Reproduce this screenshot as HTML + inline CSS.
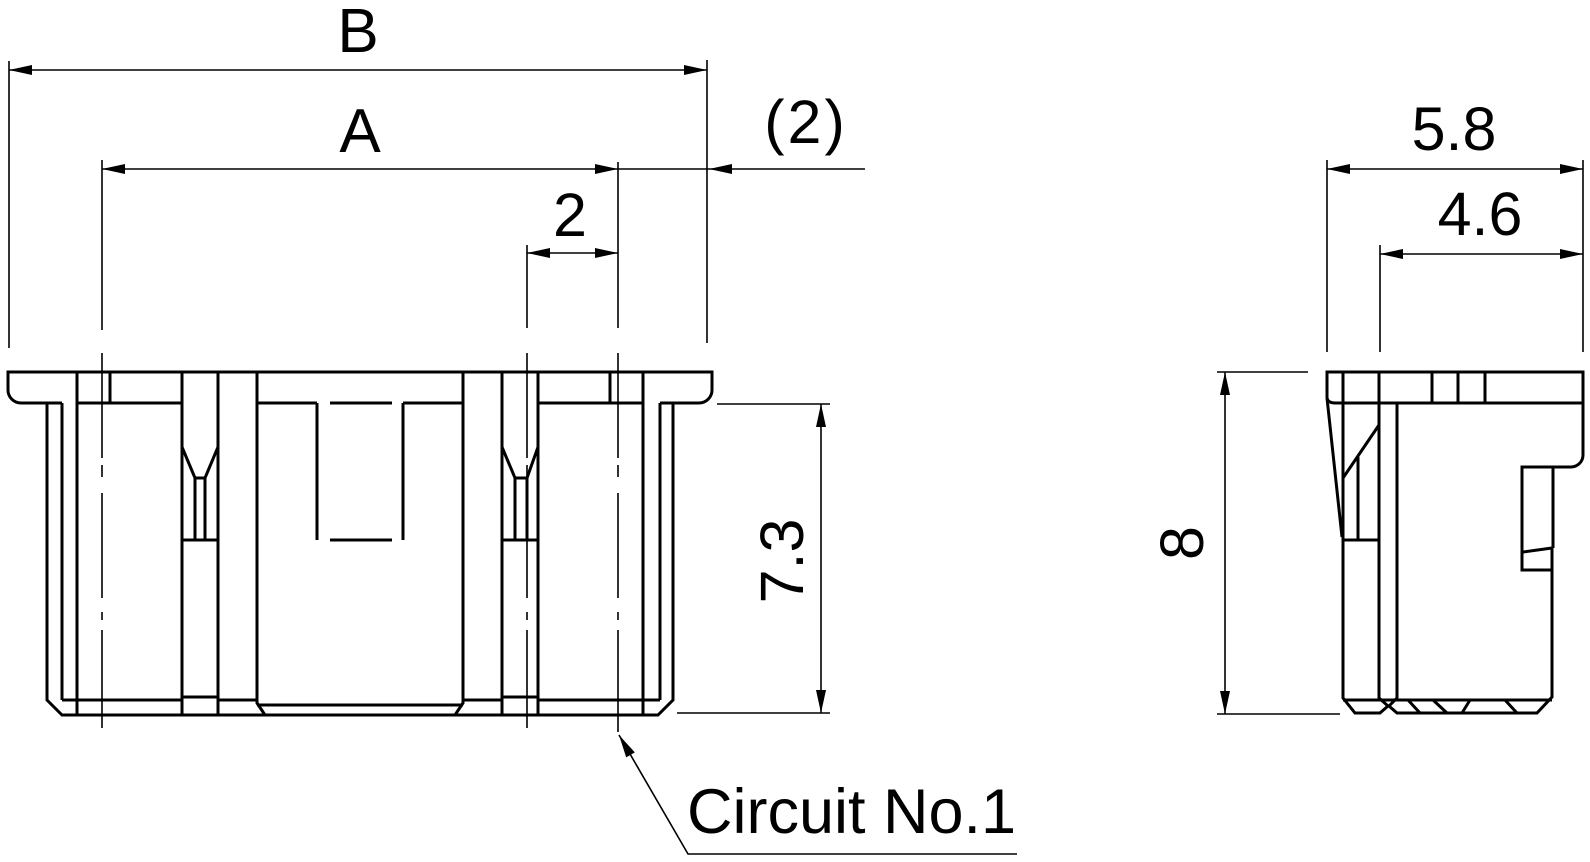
<!DOCTYPE html>
<html>
<head>
<meta charset="utf-8">
<style>
html,body{margin:0;padding:0;background:#fff;}
svg{display:block;}
text{font-family:"Liberation Sans",Arial,sans-serif;fill:#000;}
</style>
</head>
<body>
<svg width="1590" height="862" viewBox="0 0 1590 862" xmlns="http://www.w3.org/2000/svg">
<rect width="1590" height="862" fill="#fff"/>

<!-- ===== Dimension lines (thin) ===== -->
<g stroke="#000" stroke-width="1.6" fill="none">
  <line x1="9" y1="61" x2="9" y2="348"/>
  <line x1="102" y1="160" x2="102" y2="330"/>
  <line x1="527" y1="245" x2="527" y2="328"/>
  <line x1="618" y1="162" x2="618" y2="328"/>
  <line x1="707" y1="60" x2="707" y2="343"/>
  <line x1="9" y1="70" x2="707" y2="70"/>
  <line x1="102" y1="169" x2="865" y2="169"/>
  <line x1="527" y1="253" x2="618" y2="253"/>
  <line x1="717" y1="404" x2="830" y2="404"/>
  <line x1="677" y1="713" x2="830" y2="713"/>
  <line x1="821" y1="404" x2="821" y2="713"/>
  <polyline points="619,735 688,854 1017,854"/>
  <line x1="1327" y1="160" x2="1327" y2="352"/>
  <line x1="1583" y1="160" x2="1583" y2="352"/>
  <line x1="1380" y1="245" x2="1380" y2="352"/>
  <line x1="1327" y1="169" x2="1583" y2="169"/>
  <line x1="1380" y1="254" x2="1583" y2="254"/>
  <line x1="1217" y1="372" x2="1308" y2="372"/>
  <line x1="1217" y1="714" x2="1340" y2="714"/>
  <line x1="1225" y1="372" x2="1225" y2="714"/>
</g>

<!-- centerlines (dash-dot) -->
<g stroke="#000" stroke-width="1.6" fill="none">
  <path d="M102,353V458 M102,465V477 M102,493V598 M102,612V620 M102,630V728"/>
  <path d="M527,353V458 M527,465V477 M527,493V598 M527,612V620 M527,630V728"/>
  <path d="M618,353V458 M618,465V477 M618,493V598 M618,612V620 M618,630V732"/>
</g>

<!-- arrowheads -->
<g fill="#000" stroke="none">
  <polygon points="9,70 32,65 32,75"/>
  <polygon points="707,70 684,65 684,75"/>
  <polygon points="102,169 125,164 125,174"/>
  <polygon points="618,169 595,164 595,174"/>
  <polygon points="709,169 732,164 732,174"/>
  <polygon points="527,253 550,248 550,258"/>
  <polygon points="618,253 595,248 595,258"/>
  <polygon points="1327,169 1350,164 1350,174"/>
  <polygon points="1583,169 1560,164 1560,174"/>
  <polygon points="1380,254 1403,249 1403,259"/>
  <polygon points="1583,254 1560,249 1560,259"/>
  <polygon points="821,404 816,427 826,427"/>
  <polygon points="821,713 816,690 826,690"/>
  <polygon points="1225,372 1220,395 1230,395"/>
  <polygon points="1225,714 1220,691 1230,691"/>
  <polygon points="619,735 634.8,752.4 626.2,757.4"/>
</g>

<!-- ===== Front view part (thick) ===== -->
<g stroke="#000" stroke-width="3" fill="none" stroke-linejoin="miter">
  <path d="M62,403 H21 A13,13 0 0 1 8,390 V372 H712 V390 A13,13 0 0 1 699,403 H660"/>
  <path d="M47,403 V700 L62,715 H658 L673,700 V403"/>
  <path d="M62,403 V700"/>
  <path d="M660,403 V700"/>
  <path d="M77,372 V715 M182,372 V715 M218,372 V715 M502,372 V715 M538,372 V715 M643,372 V715"/>
  <path d="M110,372 V403 M610,372 V403"/>
  <path d="M77,403 H182 M257,403 H317 M330,403 H392 M403,403 H463 M538,403 H643"/>
  <path d="M257,372 V703 L265,715 M463,372 V703 L455,715 M257,705 H463"/>
  <path d="M62,700 H182 M218,700 H257 M463,700 H502 M538,700 H660"/>
  <path d="M182,697 H218 M502,697 H538"/>
  <path d="M317,403 V540 M403,403 V540 M330,540 H392"/>
  <path d="M182,447 L195,478 H205 L218,447 M195,478 V540 M205,478 V540 M182,540 H218"/>
  <path d="M502,447 L515,478 H527 L538,447 M515,478 V540 M527,478 V540 M502,540 H538"/>
</g>

<!-- ===== Side view part (thick) ===== -->
<g stroke="#000" stroke-width="3" fill="none" stroke-linejoin="miter">
  <path d="M1327,398 V372 H1583 V455 A12,12 0 0 1 1571,467 H1522 V570 H1552"/>
  <path d="M1327,398 Q1328,403 1335,403 H1583"/>
  <path d="M1327,398 L1342,537"/>
  <path d="M1343,372 V698 L1355,713 H1380 L1388,706 L1379,698 V372"/>
  <path d="M1397,403 V698 L1389,706 L1397,713 H1537 L1552,697 V548 L1523,552"/>
  <path d="M1553,467 V548"/>
  <path d="M1379,425 L1343,478"/>
  <path d="M1358,457 V540 M1343,540 H1379"/>
  <path d="M1432,372 V403 M1458,372 V403 M1485,372 V403"/>
  <path d="M1343,700 H1552"/>
  <path d="M1408,700 L1420,713 M1433,700 L1447,713 M1470,700 L1462,713 M1505,700 L1517,713"/>
</g>

<!-- ===== Text ===== -->
<g font-size="62">
  <text x="358" y="52" text-anchor="middle">B</text>
  <text x="360" y="152" text-anchor="middle">A</text>
</g>
<g font-size="61">
  <text x="806" y="143" text-anchor="middle" letter-spacing="3">(2)</text>
  <text x="570" y="236" text-anchor="middle">2</text>
  <text x="1454" y="150" text-anchor="middle">5.8</text>
  <text x="1480" y="235" text-anchor="middle">4.6</text>
  <text transform="translate(803,561) rotate(-90)" text-anchor="middle">7.3</text>
  <text transform="translate(1203,543) rotate(-90)" text-anchor="middle">8</text>
</g>
<text x="687" y="833" font-size="63">Circuit No.1</text>
</svg>
</body>
</html>
